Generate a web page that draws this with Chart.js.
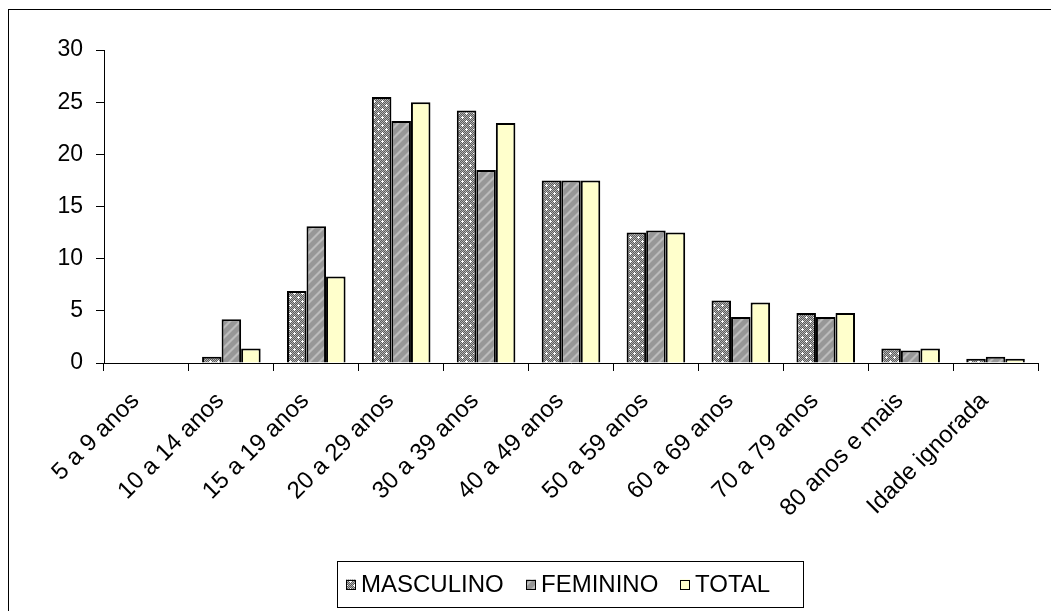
<!DOCTYPE html>
<html>
<head>
<meta charset="utf-8">
<title>Faixa etária</title>
<script src="https://cdn.jsdelivr.net/npm/chart.js@4.4.1/dist/chart.umd.min.js"></script>
<style>
  html, body { margin: 0; padding: 0; background: #ffffff; }
  canvas { display: block; }
</style>
</head>
<body>
<canvas id="chart" width="1051" height="611"></canvas>
<script>
// Age groups on the category axis
const categories = [
  '5 a 9 anos', '10 a 14 anos', '15 a 19 anos', '20 a 29 anos', '30 a 39 anos',
  '40 a 49 anos', '50 a 59 anos', '60 a 69 anos', '70 a 79 anos', '80 anos e mais',
  'Idade ignorada'
];

// Percentages per age group
const masculino = [0, 0.6, 6.9, 25.5, 24.2, 17.5, 12.5, 6.0, 4.8, 1.4, 0.4];
const feminino  = [0, 4.2, 13.1, 23.2, 18.5, 17.5, 12.7, 4.4, 4.4, 1.2, 0.6];
const total     = [0, 1.4, 8.3, 25.0, 23.0, 17.5, 12.5, 5.8, 4.8, 1.4, 0.4];

const seriesNames = ['MASCULINO', 'FEMININO', 'TOTAL'];

// Y axis range and step
const yMin = 0;
const yMax = 30;
const yStep = 5;

const FONT = "'Liberation Sans', Arial, sans-serif";

// Dotted grey checker fill with small white sparkles
function makeDotPattern() {
  const c = document.createElement('canvas');
  c.width = 8; c.height = 8;
  const g = c.getContext('2d');
  for (let y = 0; y < 8; y++) {
    for (let x = 0; x < 8; x++) {
      g.fillStyle = ((x + y) % 2) ? '#5c5c5c' : '#b2b2b2';
      g.fillRect(x, y, 1, 1);
    }
  }
  g.fillStyle = '#ffffff';
  const dots = [[2, 1], [6, 5]];
  dots.forEach(([x, y]) => {
    g.fillRect(x, y, 1, 1);
    g.fillRect(x - 1, y, 1, 1);
    g.fillRect(x + 1, y, 1, 1);
    g.fillRect(x, y - 1, 1, 1);
    g.fillRect(x, y + 1, 1, 1);
  });
  return g.createPattern(c, 'repeat');
}

// Grey fill with soft light diagonal stripes
function makeStripePattern() {
  const c = document.createElement('canvas');
  c.width = 10; c.height = 10;
  const g = c.getContext('2d');
  for (let y = 0; y < 10; y++) {
    for (let x = 0; x < 10; x++) {
      const k = (x + y) % 10;
      let col = '#979797';
      if (k === 0 || k === 1) col = '#bcbcbc';
      else if (k === 2 || k === 9) col = '#a9a9a9';
      g.fillStyle = col;
      g.fillRect(x, y, 1, 1);
    }
  }
  return g.createPattern(c, 'repeat');
}

const fills = [makeDotPattern(), makeStripePattern(), '#ffffcc'];

// Outer frame around the whole chart
const framePlugin = {
  id: 'frame',
  beforeDraw(chart) {
    const ctx = chart.ctx;
    ctx.save();
    ctx.fillStyle = '#ffffff';
    ctx.fillRect(0, 0, chart.width, chart.height);
    ctx.strokeStyle = '#000000';
    ctx.lineWidth = 1;
    ctx.strokeRect(8.5, 9.5, chart.width + 20, chart.height + 20);
    ctx.restore();
  }
};

// Boxed legend under the plot
const boxedLegend = {
  id: 'boxedLegend',
  afterDraw(chart) {
    const ctx = chart.ctx;
    const ds = chart.data.datasets;
    const frameL = 337.5, frameR = 803.5, frameT = 561.5, frameB = 607.5;
    const box = 10, textGap = 5, itemGap = 22;
    ctx.save();
    ctx.strokeStyle = '#000000';
    ctx.lineWidth = 1;
    ctx.strokeRect(frameL, frameT, frameR - frameL, frameB - frameT);
    ctx.font = '24px ' + FONT;
    ctx.textBaseline = 'middle';
    const cy = 584.5;
    let x = 346;
    ds.forEach((d) => {
      ctx.fillStyle = d.backgroundColor;
      ctx.fillRect(x, cy - box / 2, box, box);
      ctx.strokeStyle = '#000000';
      ctx.strokeRect(x + 0.5, Math.round(cy - box / 2) + 0.5, box - 1, box - 1);
      ctx.fillStyle = '#000000';
      const tx = x + box + textGap;
      ctx.fillText(d.label, tx, cy + 1);
      x = Math.round(tx + ctx.measureText(d.label).width + itemGap);
    });
    ctx.restore();
  }
};

const values = [masculino, feminino, total];

new Chart(document.getElementById('chart'), {
  type: 'bar',
  data: {
    labels: categories,
    datasets: seriesNames.map((name, i) => ({
      label: name,
      data: values[i],
      backgroundColor: fills[i],
      borderColor: '#000000',
      borderWidth: 2,
      borderSkipped: 'bottom',
      categoryPercentage: 0.69,
      barPercentage: 1.0
    }))
  },
  options: {
    responsive: false,
    animation: false,
    devicePixelRatio: 1,
    layout: { padding: { top: 50, right: 13, left: 0, bottom: 0 } },
    plugins: {
      legend: { display: false },
      tooltip: { enabled: false }
    },
    scales: {
      x: {
        grid: {
          display: true,
          drawOnChartArea: false,
          drawTicks: true,
          tickLength: 8,
          offset: true,
          color: '#000000'
        },
        border: { display: true, color: '#000000', width: 1 },
        ticks: {
          minRotation: 45,
          maxRotation: 45,
          autoSkip: false,
          color: '#000000',
          padding: 16,
          labelOffset: -11,
          font: { family: FONT, size: 24 }
        },
        afterFit(scale) { scale.height = 611 - 363; }
      },
      y: {
        min: yMin,
        max: yMax,
        grid: {
          display: true,
          drawOnChartArea: false,
          drawTicks: true,
          tickLength: 8,
          color: '#000000'
        },
        border: { display: true, color: '#000000', width: 1 },
        ticks: {
          stepSize: yStep,
          color: '#000000',
          padding: 13,
          font: { family: FONT, size: 23 }
        },
        afterFit(scale) { scale.width = 104; }
      }
    }
  },
  plugins: [framePlugin, boxedLegend]
});
</script>
</body>
</html>
